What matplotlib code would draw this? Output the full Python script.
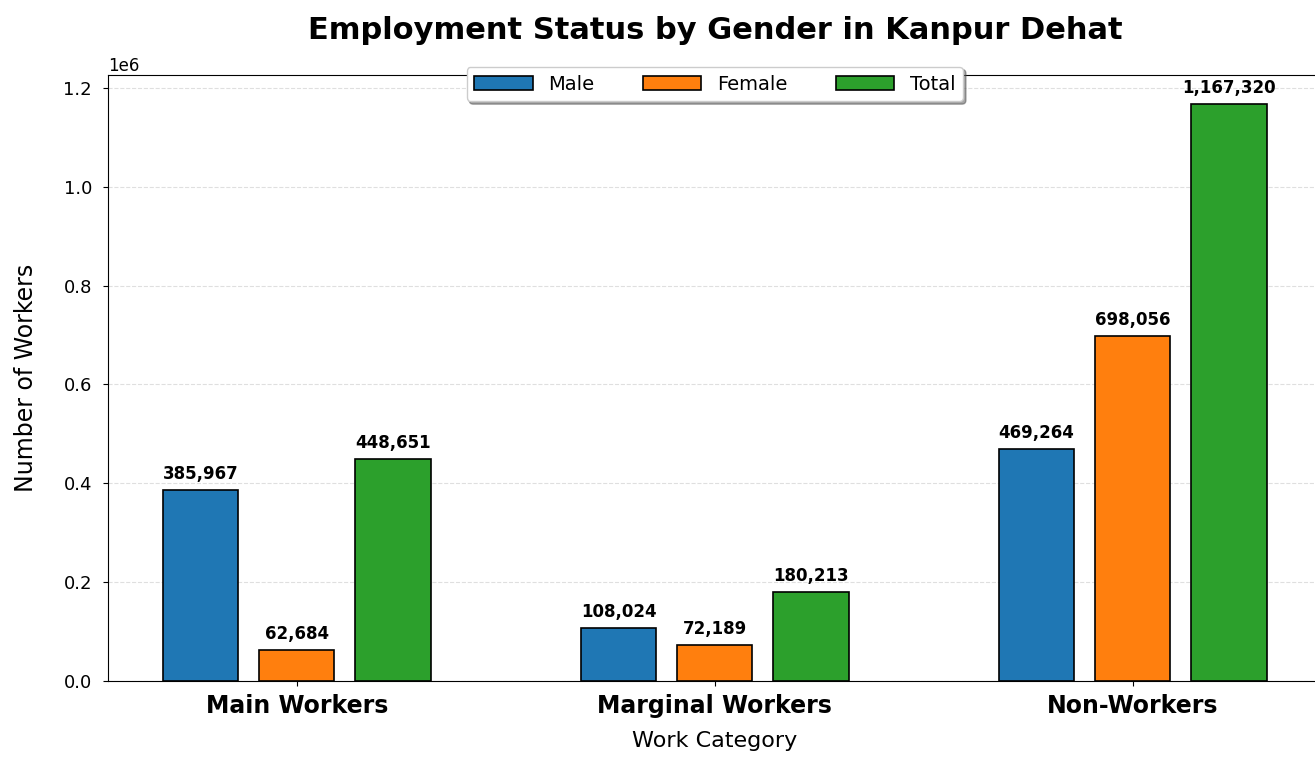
import numpy as np
import matplotlib.pyplot as plt

# data
categories = ['Main Workers', 'Marginal Workers', 'Non-Workers']
male = [385967, 108024, 469264]
female = [62684, 72189, 698056]
total = [448651, 180213, 1167320]

series = {'Male': male, 'Female': female, 'Total': total}
colors = ['#1f77b4', '#ff7f0e', '#2ca02c']

fig = plt.figure(figsize=(13.15, 7.6), dpi=100)
ax = fig.add_axes([0.0821, 0.104, 0.923, 0.797])

x = np.arange(len(categories))
width = 0.18
offset = 0.23

for i, (name, vals) in enumerate(series.items()):
    pos = x + (i - 1) * offset
    bars = ax.bar(pos, vals, width, label=name, color=colors[i],
                  edgecolor='black', linewidth=1.2, zorder=3)
    for b, v in zip(bars, vals):
        ax.annotate(f'{v:,}', (b.get_x() + b.get_width() / 2, b.get_height()),
                    xytext=(0, 5), textcoords='offset points',
                    ha='center', va='bottom', fontsize=12, fontweight='bold')

ax.set_xticks(x)
ax.set_xticklabels(categories, fontsize=17, fontweight='bold')
ax.tick_params(axis='x', pad=6)
ax.tick_params(axis='y', labelsize=13, pad=8)
ax.yaxis.get_offset_text().set_fontsize(12)
ax.set_xlabel('Work Category', fontsize=16, labelpad=9)
ax.set_ylabel('Number of Workers', fontsize=17, labelpad=18)
ax.set_title('Employment Status by Gender in Kanpur Dehat', fontsize=22,
             fontweight='bold', pad=26)
ax.grid(axis='y', linestyle='--', alpha=0.4, zorder=0)

ax.legend(loc='upper center', bbox_to_anchor=(0.5, 1.03), ncol=3,
          fontsize=14, shadow=True, handlelength=3, columnspacing=2.5)

fig.savefig('out.png', dpi=100)
